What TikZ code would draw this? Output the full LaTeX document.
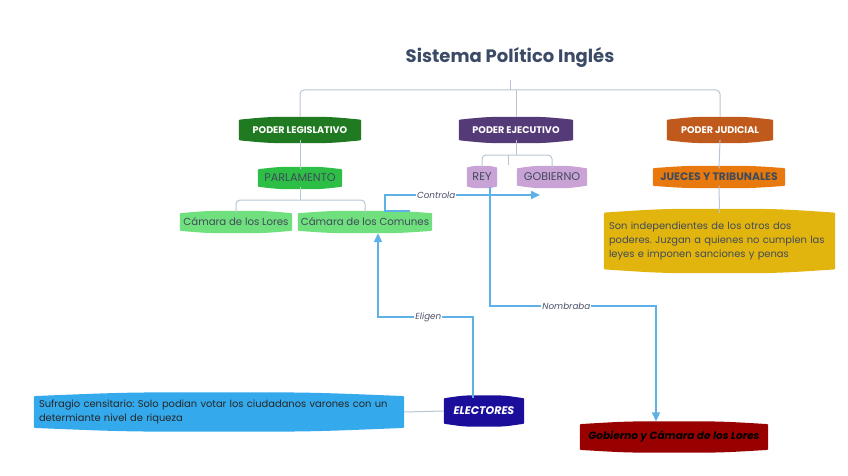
\documentclass[tikz,border=0pt]{standalone}
\usepackage{fontspec}
\setmainfont{Poppins}
\frenchspacing
\usetikzlibrary{arrows.meta,calc}
\pgfdeclarelayer{background}
\pgfsetlayers{background,main}
\definecolor{titlec}{HTML}{3B4A66}
\definecolor{treec}{HTML}{B9C5D5}
\definecolor{bluec}{HTML}{5DB1E6}
\definecolor{legc}{HTML}{1F7A22}
\definecolor{ejec}{HTML}{553A78}
\definecolor{judc}{HTML}{BF5A1C}
\definecolor{parlc}{HTML}{2DBE45}
\definecolor{camc}{HTML}{70DF7E}
\definecolor{reyc}{HTML}{C9A3D6}
\definecolor{juecc}{HTML}{E8790F}
\definecolor{yelc}{HTML}{E2B40E}
\definecolor{elec}{HTML}{1B0E9B}
\definecolor{sufc}{HTML}{34A9EC}
\definecolor{gclc}{HTML}{990000}
\definecolor{darktext}{HTML}{404B5A}
\definecolor{labc}{HTML}{4A5068}
\newcommand{\blobshape}[3]{%
\fill[#2] ([yshift=1.5pt]#1.south west)
 .. controls (#1.south west) .. ([shift={(2pt,-0.3pt)}]#1.south west)
 .. controls ($(#1.south west)!0.5!(#1.south)+(0pt,-#3)$) .. ([yshift=-#3]#1.south)
 .. controls ($(#1.south east)!0.5!(#1.south)+(0pt,-#3)$) .. ([shift={(-2pt,-0.3pt)}]#1.south east)
 .. controls (#1.south east) .. ([yshift=1.5pt]#1.south east)
 -- ([yshift=-1.5pt]#1.north east)
 .. controls (#1.north east) .. ([shift={(-2pt,0.3pt)}]#1.north east)
 .. controls ($(#1.north east)!0.5!(#1.north)+(0pt,#3)$) .. ([yshift=#3]#1.north)
 .. controls ($(#1.north west)!0.5!(#1.north)+(0pt,#3)$) .. ([shift={(2pt,0.3pt)}]#1.north west)
 .. controls (#1.north west) .. ([yshift=-1.5pt]#1.north west) -- cycle;}
\tikzset{
  nd/.style={inner sep=0pt, align=center},
  headnd/.style={nd, text=white, minimum height=20pt, font=\bfseries\fontsize{9.6}{11}\selectfont},
  subnd/.style={nd, minimum height=17pt, text=darktext, font=\fontsize{10.2}{12}\selectfont},
  capsnd/.style={subnd, font=\fontsize{11.2}{12}\selectfont},
  tree/.style={draw=treec, line width=1pt, rounded corners=4pt},
  conn/.style={draw=bluec, line width=2pt, -{Triangle[length=9pt,width=8pt]}},
  connlab/.style={fill=white, inner sep=1pt, text=labc, font=\itshape\fontsize{8.8}{10}\selectfont}
}
\begin{document}
\begin{tikzpicture}[x=1pt,y=-1pt]
\useasboundingbox (0,0) rectangle (848,476);
% title
\node[text=titlec, font=\bfseries\fontsize{18}{21}\selectfont] (title) at (510,57) {Sistema Político Inglés};
\coordinate (stem) at (510,80);
% level 1
\node[headnd, minimum width=122pt] (leg) at (300,130) {PODER LEGISLATIVO};
\node[headnd, minimum width=114pt] (eje) at (516,130) {PODER EJECUTIVO};
\node[headnd, minimum width=106pt] (jud) at (720,130) {PODER JUDICIAL};
% level 2
\node[capsnd, minimum width=84pt] (parl) at (300,178) {PARLAMENTO};
\node[subnd, minimum width=112pt] (lores) at (236,222) {Cámara de los Lores};
\node[subnd, minimum width=134pt] (comunes) at (365,222) {Cámara de los Comunes};
\node[capsnd, minimum width=30pt, minimum height=19pt] (rey) at (482,177) {REY};
\node[capsnd, minimum width=70pt] (gob) at (552,177) {GOBIERNO};
\node[subnd, minimum width=132pt, font=\bfseries\fontsize{10.8}{12}\selectfont] (jueces) at (719,177) {JUECES Y TRIBUNALES};
\node[nd, align=left, text width=221pt, inner xsep=5pt, minimum height=56pt, text=darktext, font=\fontsize{9.9}{14}\selectfont] (indep) at (719.5,241) {Son independientes de los otros dos\\poderes. Juzgan a quienes no cumplen las\\leyes e imponen sanciones y penas};
% bottom
\node[nd, minimum width=80pt, minimum height=25pt, text=white, font=\bfseries\itshape\fontsize{11}{12}\selectfont] (elect) at (484,411) {ELECTORES};
\node[nd, align=left, text width=360pt, inner xsep=5pt, minimum height=31pt, text=black!85, font=\fontsize{9.9}{14}\selectfont] (sufr) at (219,412) {Sufragio censitario: Solo podian votar los ciudadanos varones con un\\determiante nivel de riqueza};
\node[nd, minimum width=188pt, minimum height=25pt, text=black, font=\bfseries\itshape\fontsize{10.5}{12}\selectfont] (gcl) at (674,437) {Gobierno y Cámara de los Lores};
% shapes
\begin{pgfonlayer}{background}
\blobshape{leg}{legc}{3pt}
\blobshape{eje}{ejec}{3pt}
\blobshape{jud}{judc}{3pt}
\blobshape{parl}{parlc}{2.5pt}
\blobshape{lores}{camc}{2.5pt}
\blobshape{comunes}{camc}{2.5pt}
\blobshape{rey}{reyc}{1.5pt}
\blobshape{gob}{reyc}{2.5pt}
\blobshape{jueces}{juecc}{2.5pt}
\blobshape{indep}{yelc}{4pt}
\blobshape{elect}{elec}{3pt}
\blobshape{sufr}{sufc}{4pt}
\blobshape{gcl}{gclc}{3pt}
% tree lines
\draw[tree] (stem) -- (510,90);
\draw[tree] ([yshift=3pt]leg.north) -- (300,90) -- (720,90) -- ([yshift=3pt]jud.north);
\draw[tree] (516,90) -- ([yshift=3pt]eje.north);
\draw[tree] (leg.south) -- (parl.north);
\draw[tree] (parl.south) -- (300,200);
\draw[tree] (lores.north) -- (236,200) -- (365,200) -- (comunes.north);
\draw[tree] (eje.south) -- (516,155);
\draw[tree] (rey.north) -- (482,155) -- (552,155) -- (gob.north);
\draw[tree, rounded corners=0pt] (508,155) -- (508,165);
\draw[tree] (jud.south) -- (jueces.north);
\draw[tree] (jueces.south) -- (indep.north);
\draw[tree] (elect.west) -- (sufr.east);
\end{pgfonlayer}
% blue connectors
\coordinate (cstart) at (410,211);
\coordinate (ctip) at (540,195);
\draw[conn] (cstart) -- (385,211) -- (385,195) -- node[connlab, pos=0.33] {Controla} (ctip);
\draw[conn] ([xshift=8pt]rey.south) -- (490,306) -- node[connlab, pos=0.46] {Nombraba} (656,306) -- ([yshift=3pt]gcl.north -| 656,0);
\draw[conn] (elect.north -| 473,0) -- (473,317) -- node[connlab, pos=0.47] {Eligen} (378,317) -- ([yshift=-2.5pt]comunes.south -| 378,0);
\end{tikzpicture}
\end{document}
